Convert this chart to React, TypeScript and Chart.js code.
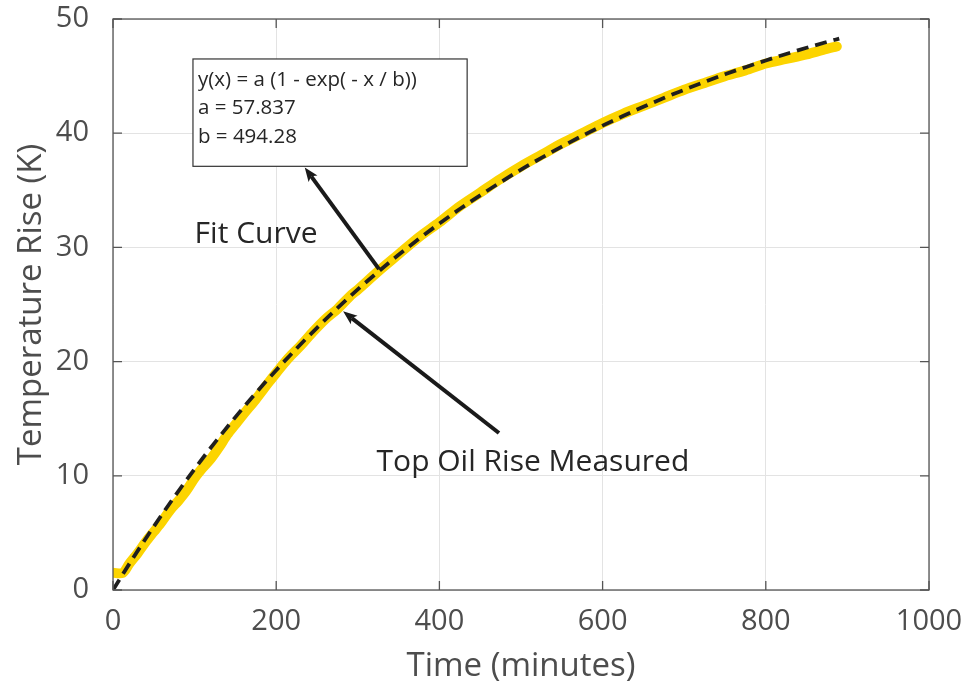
import React, { useEffect, useRef } from "react";
import { Chart, registerables } from "chart.js";

Chart.register(...registerables);

// ---- data ----
const fitTimes = [0, 25, 50, 75, 100, 125, 150, 175, 200, 225, 250, 275, 300, 325, 350, 375, 400, 425, 450, 475, 500, 525, 550, 575, 600, 625, 650, 675, 700, 725, 750, 775, 800, 825, 850, 875, 890];
const fitValues = [0, 2.85, 5.56, 8.14, 10.6, 12.93, 15.14, 17.25, 19.25, 21.15, 22.96, 24.68, 26.32, 27.87, 29.35, 30.75, 32.09, 33.36, 34.56, 35.71, 36.81, 37.84, 38.83, 39.77, 40.66, 41.5, 42.31, 43.08, 43.8, 44.49, 45.16, 45.78, 46.37, 46.94, 47.48, 47.99, 48.28];

const measuredTimes = [0, 12, 20, 30, 40, 50, 60, 70, 80, 90, 100, 110, 120, 130, 140, 150, 160, 175, 190, 200, 215, 230, 245, 260, 275, 290, 300, 325, 350, 375, 400, 425, 450, 475, 500, 525, 550, 575, 600, 625, 650, 675, 700, 725, 750, 775, 800, 825, 850, 870, 887];
const measuredValues = [1.5, 1.5, 2.3, 3.2, 4.2, 5.1, 6.0, 7.0, 7.8, 8.7, 9.8, 10.7, 11.5, 12.5, 13.6, 14.5, 15.4, 16.7, 18.1, 19.0, 20.3, 21.4, 22.6, 23.7, 24.6, 25.7, 26.3, 27.9, 29.4, 30.9, 32.2, 33.6, 34.8, 36.0, 37.1, 38.1, 39.1, 40.0, 40.9, 41.7, 42.4, 43.1, 43.8, 44.4, 45.0, 45.5, 46.1, 46.5, 46.9, 47.3, 47.6];

const xTicks = [0, 200, 400, 600, 800, 1000];
const yTicks = [0, 10, 20, 30, 40, 50];

const xTitle = "Time (minutes)";
const yTitle = "Temperature Rise (K)";
const equationLines = ["y(x) = a (1 - exp( - x / b))", "a = 57.837", "b = 494.28"];
const fitLabel = "Fit Curve";
const measuredLabel = "Top Oil Rise Measured";

// ---- annotation layout (data units) ----
const annot = {
  box: { x0: 98, x1: 434, y0: 46.5, y1: 37.1 },
  fitArrow: { fromX: 326, fromY: 28.1, toX: 235, toY: 37.0 },
  measArrow: { fromX: 473, fromY: 13.75, toX: 282, toY: 24.4 },
  fitText: { x: 100, y: 31.1 },
  measText: { x: 323, y: 11.2 },
};

const FONT = "'Open Sans', 'Noto Sans', sans-serif";
const TEXT_DARK = "#262626";
const AXIS_GRAY = "#4d4d4d";

function drawArrow(ctx: CanvasRenderingContext2D, x1: number, y1: number, x2: number, y2: number) {
  const ang = Math.atan2(y2 - y1, x2 - x1);
  const len = 14;
  const half = 5.5;
  ctx.save();
  ctx.strokeStyle = "#1a1a1a";
  ctx.fillStyle = "#1a1a1a";
  ctx.lineWidth = 4;
  ctx.lineCap = "butt";
  ctx.beginPath();
  ctx.moveTo(x1, y1);
  ctx.lineTo(x2 - Math.cos(ang) * (len - 3), y2 - Math.sin(ang) * (len - 3));
  ctx.stroke();
  ctx.beginPath();
  ctx.moveTo(x2, y2);
  ctx.lineTo(x2 - Math.cos(ang) * len + Math.sin(ang) * half, y2 - Math.sin(ang) * len - Math.cos(ang) * half);
  ctx.lineTo(x2 - Math.cos(ang) * (len - 3), y2 - Math.sin(ang) * (len - 3));
  ctx.lineTo(x2 - Math.cos(ang) * len - Math.sin(ang) * half, y2 - Math.sin(ang) * len + Math.cos(ang) * half);
  ctx.closePath();
  ctx.fill();
  ctx.restore();
}

const overlayPlugin = {
  id: "overlay",
  afterDatasetsDraw(chart: any) {
    const { ctx, scales } = chart;
    const xs = scales.x;
    const ys = scales.y;
    const px = (v: number) => xs.getPixelForValue(v);
    const py = (v: number) => ys.getPixelForValue(v);

    // equation box
    const bx0 = px(annot.box.x0), bx1 = px(annot.box.x1);
    const by0 = py(annot.box.y0), by1 = py(annot.box.y1);
    ctx.save();
    ctx.fillStyle = "#ffffff";
    ctx.fillRect(bx0, by0, bx1 - bx0, by1 - by0);
    ctx.strokeStyle = "#333333";
    ctx.lineWidth = 1.2;
    ctx.strokeRect(bx0, by0, bx1 - bx0, by1 - by0);
    ctx.fillStyle = TEXT_DARK;
    ctx.font = `20.5px ${FONT}`;
    ctx.textBaseline = "middle";
    ctx.textAlign = "left";
    equationLines.forEach((line, i) => {
      ctx.fillText(line, bx0 + 5, by0 + 21 + i * 28.5);
    });
    ctx.restore();

    // arrows
    drawArrow(ctx, px(annot.fitArrow.fromX), py(annot.fitArrow.fromY), px(annot.fitArrow.toX), py(annot.fitArrow.toY));
    drawArrow(ctx, px(annot.measArrow.fromX), py(annot.measArrow.fromY), px(annot.measArrow.toX), py(annot.measArrow.toY));

    // labels
    ctx.save();
    ctx.fillStyle = TEXT_DARK;
    ctx.font = `30px ${FONT}`;
    ctx.textBaseline = "middle";
    ctx.textAlign = "left";
    ctx.fillText(fitLabel, px(annot.fitText.x), py(annot.fitText.y));
    ctx.fillText(measuredLabel, px(annot.measText.x), py(annot.measText.y));
    ctx.restore();
  },
  afterDraw(chart: any) {
    const { ctx, chartArea: a, scales } = chart;
    ctx.save();
    ctx.strokeStyle = "#555555";
    ctx.lineWidth = 1.3;
    ctx.strokeRect(a.left, a.top, a.right - a.left, a.bottom - a.top);
    const tl = 9;
    ctx.beginPath();
    xTicks.forEach((t) => {
      const x = scales.x.getPixelForValue(t);
      ctx.moveTo(x, a.bottom);
      ctx.lineTo(x, a.bottom - tl);
      ctx.moveTo(x, a.top);
      ctx.lineTo(x, a.top + tl);
    });
    yTicks.forEach((t) => {
      const y = scales.y.getPixelForValue(t);
      ctx.moveTo(a.left, y);
      ctx.lineTo(a.left + tl, y);
      ctx.moveTo(a.right, y);
      ctx.lineTo(a.right - tl, y);
    });
    ctx.stroke();
    ctx.restore();
  },
};

export default function App() {
  const canvasRef = useRef<HTMLCanvasElement | null>(null);

  useEffect(() => {
    if (!canvasRef.current) return;
    const chart = new Chart(canvasRef.current, {
      type: "line",
      data: {
        datasets: [
          {
            label: "Top Oil Rise Measured",
            data: measuredTimes.map((t, i) => ({ x: t, y: measuredValues[i] })),
            borderColor: "#fcd400",
            borderWidth: 10,
            borderJoinStyle: "round",
            borderCapStyle: "round",
            pointRadius: 0,
            tension: 0.3,
            fill: false,
            order: 2,
          },
          {
            label: "Fit Curve",
            data: fitTimes.map((t, i) => ({ x: t, y: fitValues[i] })),
            borderColor: "#1f1f1f",
            borderWidth: 3.8,
            borderDash: [12, 7],
            pointRadius: 0,
            cubicInterpolationMode: "monotone",
            fill: false,
            order: 1,
          },
        ],
      },
      options: {
        responsive: false,
        animation: false,
        layout: { padding: { left: 0, top: 19, right: 42, bottom: 0 } },
        plugins: {
          legend: { display: false },
          tooltip: { enabled: false },
        },
        scales: {
          x: {
            type: "linear",
            min: 0,
            max: 1000,
            afterFit: (s: any) => {
              s.height = 100;
              s.paddingLeft = 0;
              s.paddingRight = 0;
            },
            afterBuildTicks: (s: any) => {
              s.ticks = xTicks.map((v) => ({ value: v }));
            },
            ticks: {
              callback: (v: any) => String(v),
              color: AXIS_GRAY,
              font: { family: FONT, size: 29 },
              padding: 14,
              maxRotation: 0,
            },
            grid: { color: "#e3e3e3", lineWidth: 1, drawTicks: false },
            border: { display: false },
            title: {
              display: true,
              text: xTitle,
              color: AXIS_GRAY,
              font: { family: FONT, size: 33 },
              padding: { top: 0, bottom: 4 },
            },
          },
          y: {
            type: "linear",
            min: 0,
            max: 50,
            afterFit: (s: any) => {
              s.width = 113;
              s.paddingTop = 0;
              s.paddingBottom = 0;
            },
            afterBuildTicks: (s: any) => {
              s.ticks = yTicks.map((v) => ({ value: v }));
            },
            ticks: {
              callback: (v: any) => String(v),
              color: AXIS_GRAY,
              font: { family: FONT, size: 29 },
              padding: 24,
            },
            grid: { color: "#e3e3e3", lineWidth: 1, drawTicks: false },
            border: { display: false },
            title: {
              display: true,
              text: yTitle,
              color: AXIS_GRAY,
              font: { family: FONT, size: 33 },
              padding: { top: 12, bottom: 0 },
            },
          },
        },
      },
      plugins: [overlayPlugin],
    } as any);
    return () => chart.destroy();
  }, []);

  return (
    <div style={{ position: "absolute", left: 0, top: 0, width: 971, height: 690, background: "#ffffff" }}>
      <canvas ref={canvasRef} width={971} height={690} />
    </div>
  );
}
